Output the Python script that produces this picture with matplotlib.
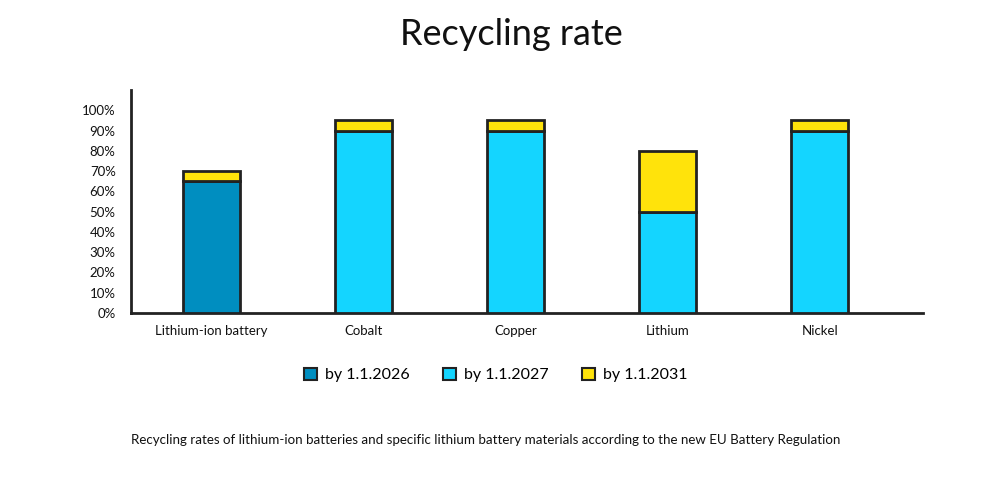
import matplotlib
matplotlib.use("Agg")
import matplotlib.pyplot as plt
from matplotlib.patches import Patch
import numpy as np

plt.rcParams['font.family'] = ['Lato', 'DejaVu Sans']

categories = ["Lithium-ion battery", "Cobalt", "Copper", "Lithium", "Nickel"]
by_2026 = [65, 0, 0, 0, 0]
by_2027 = [0, 90, 90, 50, 90]
by_2031_extra = [5, 5, 5, 30, 5]
yticks = [0, 10, 20, 30, 40, 50, 60, 70, 80, 90, 100]
series_names = ["by 1.1.2026", "by 1.1.2027", "by 1.1.2031"]

c26 = "#008EC0"
c27 = "#14D5FF"
c31 = "#FFE30B"
edge = "#222222"

fig = plt.figure(figsize=(10, 4.79), dpi=100)
ax = fig.add_axes([0.131, 0.3466, 0.792, 0.4654])

x = np.arange(len(categories))
w = 0.375
base = np.array(by_2026) + np.array(by_2027)
ax.bar(x, by_2026, width=w, color=c26, edgecolor=edge, linewidth=2, zorder=3)
ax.bar(x, by_2027, width=w, bottom=by_2026, color=c27, edgecolor=edge, linewidth=2, zorder=3)
ax.bar(x, by_2031_extra, width=w, bottom=base, color=c31, edgecolor=edge, linewidth=2, zorder=3)

ax.set_xlim(-0.53, 4.68)
ax.set_ylim(0, 110)
ax.set_yticks(yticks)
ax.set_yticklabels([f"{v}%" for v in yticks], fontsize=9.5, color="#111111")
ax.set_xticks(x)
ax.set_xticklabels(categories, fontsize=9.5, color="#111111")
ax.tick_params(axis='both', length=0)
ax.tick_params(axis='y', pad=11)
ax.tick_params(axis='x', pad=9)
for s in ["top", "right"]:
    ax.spines[s].set_visible(False)
for s in ["left", "bottom"]:
    ax.spines[s].set_linewidth(2)
    ax.spines[s].set_color(edge)

fig.text(0.511, 0.927, "Recycling rate", ha="center", va="center", fontsize=26, color="#111111")

handles = [Patch(facecolor=c, edgecolor=edge, linewidth=1.5) for c in (c26, c27, c31)]
fig.legend(handles, series_names, loc="center", bbox_to_anchor=(0.496, 0.217), ncol=3,
           frameon=False, fontsize=11.5, handlelength=0.8, handleheight=0.8,
           columnspacing=2.1, handletextpad=0.5)

fig.text(0.486, 0.081, "Recycling rates of lithium-ion batteries and specific lithium battery materials according to the new EU Battery Regulation",
         ha="center", va="center", fontsize=9.65, color="#111111")

fig.savefig("out.png", dpi=100)
